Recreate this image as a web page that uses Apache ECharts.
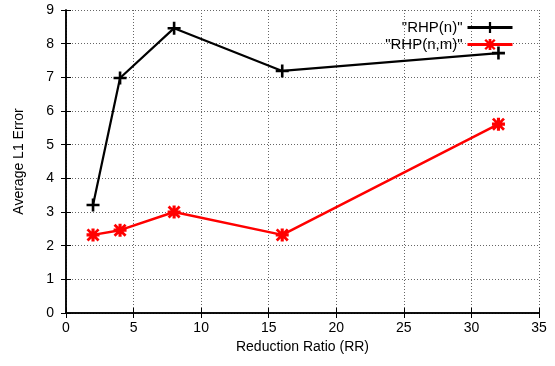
<!DOCTYPE html>
<html>
<head>
<meta charset="utf-8">
<script src="https://cdn.jsdelivr.net/npm/echarts@6/dist/echarts.min.js"></script>
<style>
html,body{margin:0;padding:0;background:#fff;}
#chart{width:555px;height:366px;}
</style>
</head>
<body>
<div id="chart"></div>
<script>
// 数据
var ratios = [2, 4, 8, 16, 32];
var rhpN = [3.21, 6.98, 8.46, 7.19, 7.72];
var rhpNM = [2.32, 2.46, 3.0, 2.32, 5.61];
var nameN = '"RHP(n)"';
var nameNM = '"RHP(n,m)"';

var plusPath = 'path://M4,0H6V10H4ZM0,4H10V6H0Z';
var starPath = 'path://M3.8,0H6.2V10H3.8ZM0,3.8H10V6.2H0ZM1.5,0L10,8.5L8.5,10L0,1.5ZM8.5,0L10,1.5L1.5,10L0,8.5Z';

function pairs(xs, ys) {
    var out = [];
    for (var i = 0; i < xs.length; i++) {
        out.push([xs[i], ys[i]]);
    }
    return out;
}

var font = 'Liberation Sans, Arial, sans-serif';
var dotted = {show: true, lineStyle: {color: '#666', type: [1, 2], width: 1}};
var legendText = {fontFamily: font, fontSize: 15, color: '#000'};

var myChart = echarts.init(document.getElementById('chart'));
var option = {
    animation: false,
    grid: {left: 66, right: 16, top: 10, bottom: 53},
    legend: [{
        data: [nameN], right: 36, top: 15, align: 'right', itemWidth: 45, itemHeight: 14, itemGap: 10,
        lineStyle: {width: 3}, textStyle: legendText
    }, {
        data: [nameNM], right: 36, top: 32, align: 'right', itemWidth: 45, itemHeight: 14, itemGap: 10,
        lineStyle: {width: 3}, textStyle: legendText
    }],
    xAxis: [{
        type: 'value', min: 0, max: 35, interval: 5,
        name: 'Reduction Ratio (RR)', nameLocation: 'middle', nameGap: 27,
        nameTextStyle: {fontFamily: font, fontSize: 14, color: '#000'},
        axisLine: {lineStyle: {color: '#000', width: 1.5}},
        axisTick: {inside: true, length: 5, lineStyle: {color: '#000'}},
        axisLabel: {fontFamily: font, fontSize: 14, color: '#000', margin: 8},
        splitLine: dotted
    }, {
        type: 'value', position: 'top', min: 0, max: 35, interval: 5,
        axisLine: {show: true, lineStyle: {color: '#000', width: 1.5}},
        axisTick: {show: true, inside: true, length: 5, lineStyle: {color: '#000'}},
        axisLabel: {show: false}, splitLine: {show: false}
    }],
    yAxis: [{
        type: 'value', min: 0, max: 9, interval: 1,
        name: 'Average L1 Error', nameLocation: 'middle', nameGap: 40,
        nameTextStyle: {fontFamily: font, fontSize: 14, color: '#000'},
        axisLine: {show: true, lineStyle: {color: '#000', width: 1.5}},
        axisTick: {show: true, inside: true, length: 5, lineStyle: {color: '#000'}},
        axisLabel: {fontFamily: font, fontSize: 14, color: '#000', margin: 12},
        splitLine: dotted
    }, {
        type: 'value', position: 'right', min: 0, max: 9, interval: 1,
        axisLine: {show: true, lineStyle: {color: '#000', width: 1.5}},
        axisTick: {show: true, inside: true, length: 5, lineStyle: {color: '#000'}},
        axisLabel: {show: false}, splitLine: {show: false}
    }],
    series: [{
        name: nameN, type: 'line', data: pairs(ratios, rhpN),
        symbol: plusPath, symbolSize: 13,
        lineStyle: {color: '#000', width: 2.2},
        itemStyle: {color: '#000'}
    }, {
        name: nameNM, type: 'line', data: pairs(ratios, rhpNM),
        symbol: starPath, symbolSize: 13,
        lineStyle: {color: '#f00', width: 2.5},
        itemStyle: {color: '#f00'}
    }]
};
myChart.setOption(option);
</script>
</body>
</html>
